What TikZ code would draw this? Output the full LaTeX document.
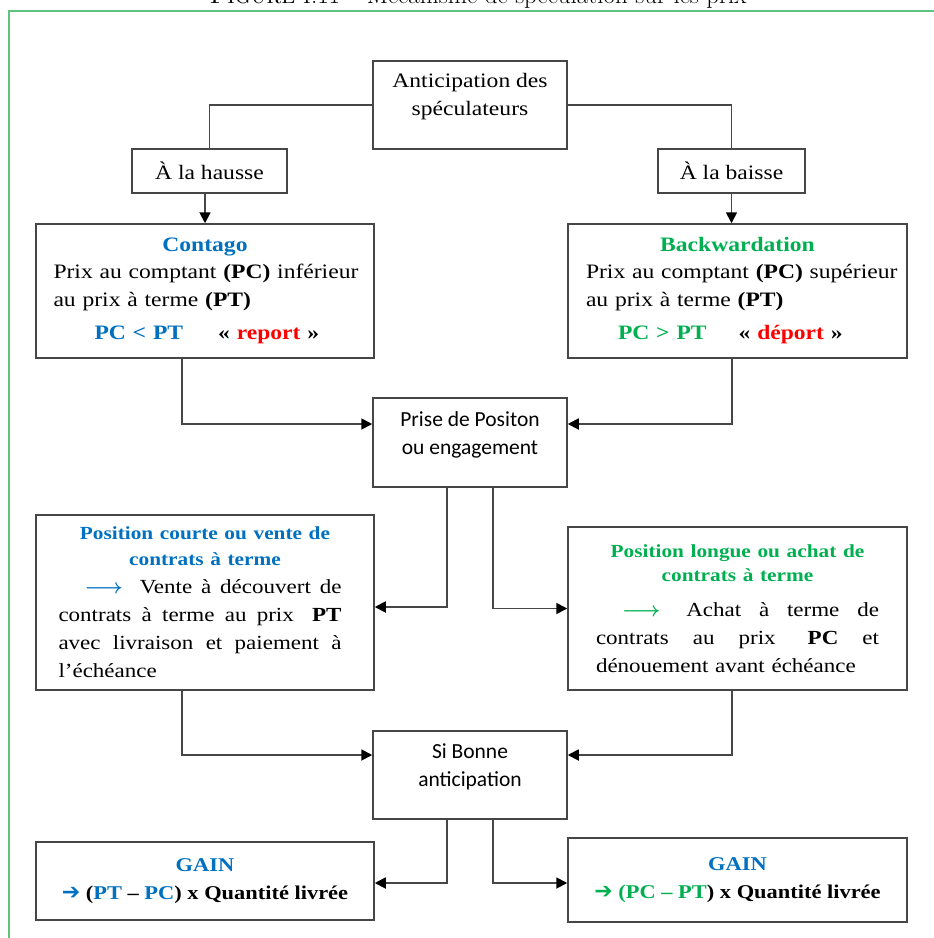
\documentclass[tikz,border=0pt]{standalone}
\usepackage{fontspec}
\usetikzlibrary{arrows.meta}
\newfontfamily\cambria[FakeStretch=1.15]{Liberation Serif}
\newfontfamily\calibri{Carlito}
\newfontfamily\symb{DejaVu Sans}
\definecolor{bleu}{RGB}{0,112,192}
\definecolor{vert}{RGB}{0,176,80}
\definecolor{rouge}{RGB}{255,0,0}
\definecolor{cadre}{RGB}{95,195,125}
\definecolor{trait}{RGB}{70,70,70}

\newcommand{\gauche}[2]{\makebox[#1pt][l]{#2}}
\newcommand{\justif}[2]{\makebox[#1pt][s]{\spaceskip=.29em plus 1fil\relax #2}}
\newcommand{\fleche}[1]{\textcolor{#1}{\boldmath$\longrightarrow$}}
\newcommand{\titre}[2]{\textcolor{#1}{\fontsize{18.5}{26}\selectfont\bfseries #2}}

\begin{document}
\begin{tikzpicture}[x=1pt,y=-1pt,
    boite/.style={draw=trait,line width=1.5pt,fill=white,inner sep=0pt,align=center},
    serif/.style={font=\fontsize{20.5}{28}\cambria},
    sans/.style={font=\fontsize{21.5}{28}\calibri},
    lien/.style={draw=trait,line width=1.8pt},
    vers/.style={lien,-{Triangle[length=11pt,width=11pt,color=black]}}]
    \useasboundingbox (0,0) rectangle (934,938);
    \clip (0,0) rectangle (934,938);

    % titre coupe et cadre
    \node[anchor=base,font=\fontsize{25}{30}\selectfont] (legende) at (478,3)
        {\textsc{Figure} I.11 -- Mécanisme de spéculation sur les prix};
    \draw[cadre,line width=2pt] (8.5,1000) |- (1000,11);

    \node[boite,serif,minimum width=194pt,minimum height=88pt,text depth=22pt] (antic) at (470,105)
        {Anticipation des\\spéculateurs};
    \node[boite,serif,minimum width=155pt,minimum height=44pt] (hausse) at (209.5,171) {À la hausse};
    \node[boite,serif,minimum width=147pt,minimum height=44pt] (baisse) at (731.5,171) {À la baisse};

    \node[boite,serif,minimum width=338pt,minimum height=134pt,text width=303pt] (contago) at (205,291)
        {\textcolor{bleu}{\textbf{Contago}}\\[-1pt]
         \gauche{303}{Prix au comptant \textbf{(PC)} inférieur}\\
         \gauche{303}{au prix à terme \textbf{(PT)}}\\[5pt]
         \gauche{303}{\bfseries\hspace*{41pt}\textcolor{bleu}{PC < PT}\hspace*{35pt}« \textcolor{rouge}{report} »}};
    \node[boite,serif,minimum width=339pt,minimum height=134pt,text width=303pt] (backw) at (737.5,291)
        {\textcolor{vert}{\textbf{Backwardation}}\\[-1pt]
         \gauche{303}{Prix au comptant \textbf{(PC)} supérieur}\\
         \gauche{303}{au prix à terme \textbf{(PT)}}\\[5pt]
         \gauche{303}{\bfseries\hspace*{32pt}\textcolor{vert}{PC > PT}\hspace*{32pt}« \textcolor{rouge}{déport} »}};

    \node[boite,sans,minimum width=194pt,minimum height=89pt,text depth=18pt] (prise) at (470,442.5)
        {Prise de Positon\\ou engagement};

    \node[boite,serif,font=\fontsize{20}{28}\cambria,minimum width=338pt,minimum height=175pt,text width=293pt] (courte) at (205,602.5)
        {\titre{bleu}{Position courte ou vente de}\\[-2pt]
         \titre{bleu}{contrats à terme}\\
         \gauche{293}{\justif{283}{\hspace*{26pt}\fleche{bleu}\hspace*{8pt} Vente à découvert de}}\\
         \gauche{293}{\justif{283}{contrats à terme au prix\hspace*{8pt} \textbf{PT}}}\\
         \gauche{293}{\justif{283}{avec livraison et paiement à}}\\
         \gauche{293}{l’échéance}};
    \node[boite,serif,font=\fontsize{20}{28}\cambria,minimum width=339pt,minimum height=163pt,text width=283pt] (longue) at (737.5,608.5)
        {\titre{vert}{Position longue ou achat de}\\[-4pt]
         \titre{vert}{contrats à terme}\\[7pt]
         \justif{283}{\hspace*{26pt}\fleche{vert}\hspace*{8pt} Achat à terme de}\\
         \justif{283}{contrats au prix\hspace*{8pt} \textbf{PC} et}\\
         \gauche{283}{dénouement avant échéance}};

    \node[boite,sans,minimum width=194pt,minimum height=88pt,text depth=20pt] (bonne) at (470,775)
        {Si Bonne\\anticipation};

    \node[boite,font=\fontsize{19.5}{28}\cambria\bfseries,minimum width=338pt,minimum height=78pt] (gainG) at (205,881)
        {\textcolor{bleu}{GAIN}\\
         {\symb\fontsize{22}{28}\selectfont\textcolor{bleu}{➔}} (\textcolor{bleu}{PT} – \textcolor{bleu}{PC}) x Quantité livrée};
    \node[boite,font=\fontsize{19.5}{28}\cambria\bfseries,minimum width=339pt,minimum height=84pt] (gainD) at (737.5,880)
        {\textcolor{bleu}{GAIN}\\
         {\symb\fontsize{22}{28}\selectfont\textcolor{vert}{➔}} \textcolor{vert}{(PC – PT}) x Quantité livrée};

    % liaisons
    \draw[lien] (antic.west) -| (hausse.north);
    \draw[lien] (antic.east) -| (baisse.north);
    \draw[vers] (contago.north |- hausse.south) -- (contago.north);
    \draw[vers] (baisse.south) -- (baisse.south |- backw.north);
    \draw[vers] ([xshift=-23pt]contago.south) |- ([yshift=18.5pt]prise.west);
    \draw[vers] ([xshift=-5.5pt]backw.south) |- ([yshift=18.5pt]prise.east);
    \draw[vers] ([xshift=-23pt]prise.south) |- ([yshift=-4.5pt]courte.east);
    \draw[vers] ([xshift=23pt]prise.south) |- (longue.west);
    \draw[vers] ([xshift=-23pt]courte.south) |- ([yshift=20pt]bonne.west);
    \draw[vers] ([xshift=-5.5pt]longue.south) |- ([yshift=20pt]bonne.east);
    \draw[vers] ([xshift=-23pt]bonne.south) |- ([yshift=-2pt]gainG.east);
    \draw[vers] ([xshift=23pt]bonne.south) |- ([yshift=-3pt]gainD.west);
\end{tikzpicture}
\end{document}
